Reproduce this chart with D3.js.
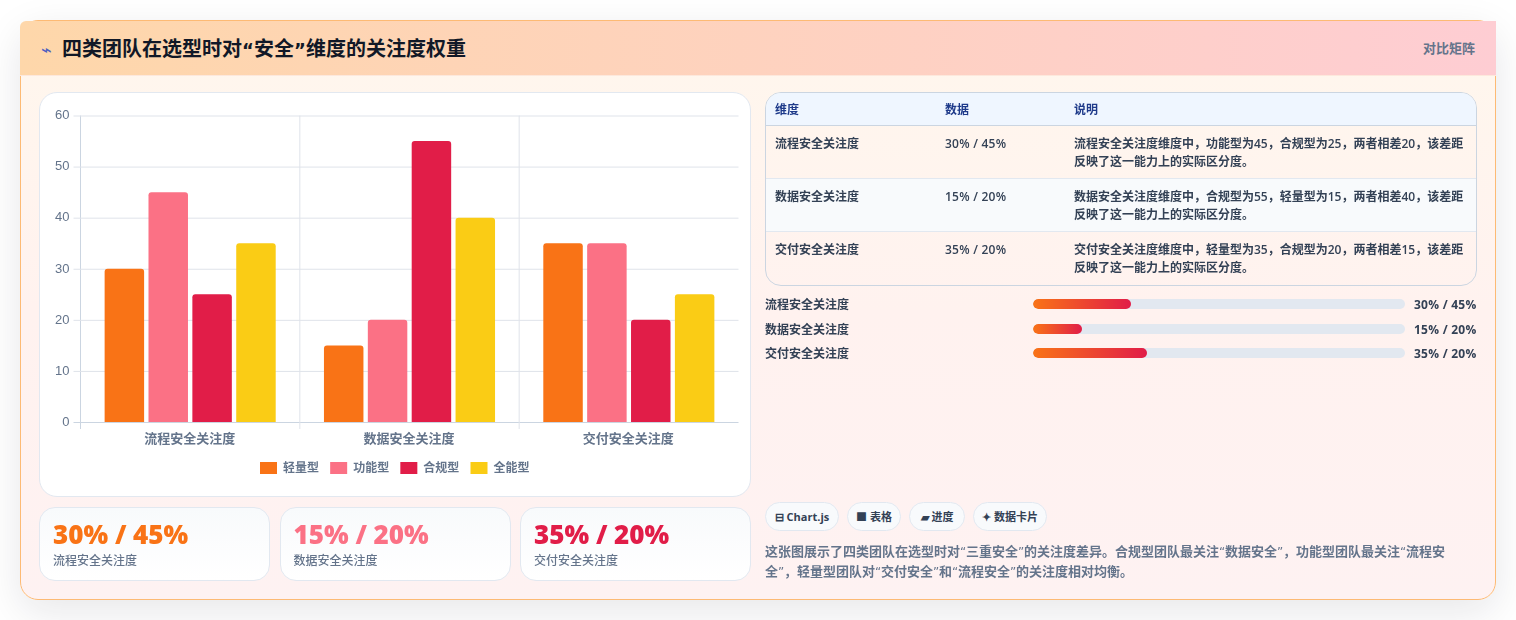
<!DOCTYPE html>
<html lang="zh">
<head>
<meta charset="utf-8">
<script src="https://cdn.jsdelivr.net/npm/d3@7"></script>
<style>
  @font-face { font-family: Quote; src: local("DejaVu Sans"); font-weight: 400 600; unicode-range: U+201C-201D; size-adjust: 92%; }
  @font-face { font-family: Quote; src: local("DejaVu Sans Bold"); font-weight: 700 900; unicode-range: U+201C-201D; size-adjust: 92%; }
  * { box-sizing: border-box; }
  html, body { margin: 0; width: 1516px; height: 620px; background: #fff; overflow: hidden; }
  body { font-family: Quote, "Open Sans", "Noto Sans CJK SC", sans-serif; position: relative; }
  .abs { position: absolute; white-space: nowrap; }
  #card {
    left: 20px; top: 20px; width: 1476px; height: 580px; border-radius: 18px;
    border: 1px solid #fdba74;
    background: linear-gradient(180deg, #fff7ed 0%, #fff2ef 50%, #fef2f2 100%);
    box-shadow: 0 12px 40px rgba(15, 23, 42, 0.1);
  }
  #head {
    left: 20px; top: 21px; width: 1476px; height: 55px;
    background: linear-gradient(90deg, #fed7aa, #fecdd3);
    border-bottom: 1px solid #fde8dc; border-radius: 6px 0 0 0;
  }
  #title { left: 62px; top: 34px; font-size: 20px; font-weight: 700; color: #111827; line-height: 30px; }
  #bolt { left: 41px; top: 39px; font-size: 18px; color: #4f5fc0; line-height: 20px; }
  #tag { right: 41px; top: 38px; font-size: 13px; font-weight: 700; color: #64748b; line-height: 20px; }
  #panel { left: 39px; top: 92px; width: 712px; height: 405px; background: #fff; border: 1px solid #e2e8f0; border-radius: 18px; }
  #plot { left: 0; top: 0; will-change: transform; }
  .stat { top: 507px; height: 74px; background: linear-gradient(180deg, #f8fafc, #ffffff); border: 1px solid #e2e8f0; border-radius: 16px; }
  .stat .v { position: absolute; left: 13px; top: 9px; font-size: 26px; font-weight: 800; line-height: 34px; white-space: nowrap; }
  .stat .k { position: absolute; left: 13px; top: 44px; font-size: 12px; font-weight: 500; color: #64748b; line-height: 18px; white-space: nowrap; }
  #tbl { left: 765px; top: 92px; width: 712px; height: 194px; border: 1px solid #cbd5e1; border-radius: 16px; overflow: hidden; }
  .cell { position: absolute; font-size: 12px; font-weight: 600; color: #334155; line-height: 18px; }
  .cell.num { letter-spacing: 0.25px; }
  .th { color: #1e3a8a; font-weight: 700; }
  .band { position: absolute; left: 0; width: 100%; border-top: 1px solid #e2e8f0; }
  .plabel { left: 765px; font-size: 12px; font-weight: 600; color: #334155; line-height: 18px; }
  .pval { left: 1414px; font-size: 12px; font-weight: 700; color: #334155; line-height: 18px; letter-spacing: 0.25px; }
  .track { left: 1033px; width: 372px; height: 10px; border-radius: 5px; background: #e2e8f0; overflow: hidden; }
  .fill { height: 100%; border-radius: 5px; background: linear-gradient(90deg, #f97316, #e11d48); }
  .pill { top: 502px; height: 29px; border: 1px solid #e2e8f0; border-radius: 15px; background: #f8fafc; font-size: 11px; font-weight: 700; color: #334155; line-height: 27px; text-align: center; }
  .note { left: 765px; font-size: 13px; font-weight: 600; color: #64748b; line-height: 20px; }
</style>
</head>
<body>
<script>
const categories = ['流程安全关注度', '数据安全关注度', '交付安全关注度'];
const seriesNames = ['轻量型', '功能型', '合规型', '全能型'];
const seriesColors = ['#f97316', '#fb7185', '#e11d48', '#facc15'];
const lightValues = [30, 15, 35];
const functionValues = [45, 20, 35];
const complianceValues = [25, 55, 20];
const allRoundValues = [35, 40, 25];
const seriesValues = [lightValues, functionValues, complianceValues, allRoundValues];
const yTicks = [0, 10, 20, 30, 40, 50, 60];

const statLabels = ['30% / 45%', '15% / 20%', '35% / 20%'];
const progressValues = [30, 15, 35];
const tableHeaders = ['维度', '数据', '说明'];
const tableNotes = [
  ['流程安全关注度维度中，功能型为45，合规型为25，两者相差20，该差距', '反映了这一能力上的实际区分度。'],
  ['数据安全关注度维度中，合规型为55，轻量型为15，两者相差40，该差距', '反映了这一能力上的实际区分度。'],
  ['交付安全关注度维度中，轻量型为35，合规型为20，两者相差15，该差距', '反映了这一能力上的实际区分度。'],
];
const pills = ['⊟ Chart.js', '■ 表格', '▰ 进度', '✦ 数据卡片'];
const noteLines = [
  '这张图展示了四类团队在选型时对“三重安全”的关注度差异。合规型团队最关注“数据安全”，功能型团队最关注“流程安',
  '全”，轻量型团队对“交付安全”和“流程安全”的关注度相对均衡。',
];

const body = d3.select('body');
const box = (id, cls = '') => body.append('div').attr('id', id).attr('class', 'abs ' + cls);

// card frame and header
box('card');
box('head');
box('bolt').text('⌁');
box('title').text('四类团队在选型时对“安全”维度的关注度权重');
box('tag').text('对比矩阵');
box('panel');

// bar chart
const svg = body.append('svg').attr('id', 'plot').attr('class', 'abs')
  .attr('width', 1516).attr('height', 620);
const x0 = d3.scaleBand().domain(categories).range([80.5, 738.5]);
const x1 = d3.scaleBand().domain(seriesNames)
  .range([0, x0.bandwidth() * 0.8]).paddingInner(0.1).paddingOuter(0.05);
const y = d3.scaleLinear().domain([0, 60]).range([422, 115.5]);

const yAxis = d3.axisLeft(y).tickValues(yTicks).tickSize(7).tickPadding(4);
const yG = svg.append('g').attr('transform', 'translate(80.5,0)').call(yAxis);
yG.select('.domain').attr('stroke', '#cbd5e1').attr('d', 'M0,115.5V429');
yG.selectAll('.tick line').attr('x2', 658).attr('x1', -7).attr('stroke', '#dfe3ea');
yG.selectAll('.tick text').attr('fill', '#64748b').attr('dy', '0.25em')
  .style('font', '13px "Liberation Sans", Arial, sans-serif');
yG.selectAll('.tick').filter(d => d === 0).select('line').attr('stroke', '#cbd5e1');

const xAxis = d3.axisBottom(x0).tickSize(0).tickPadding(12);
const xG = svg.append('g').attr('transform', 'translate(-0.5,422)').call(xAxis);
xG.select('.domain').remove();
xG.selectAll('.tick text').attr('fill', '#64748b')
  .style('font', '600 13px "Noto Sans CJK SC", sans-serif');

svg.append('g').selectAll('line')
  .data(categories.slice(1))
  .join('line')
  .attr('x1', d => x0(d))
  .attr('x2', d => x0(d))
  .attr('y1', 115.5).attr('y2', 429)
  .attr('stroke', '#dfe3ea');

const barPath = (bx, by, w, h, r) =>
  `M${bx},${by + h}V${by + r}Q${bx},${by} ${bx + r},${by}H${bx + w - r}Q${bx + w},${by} ${bx + w},${by + r}V${by + h}Z`;

const bars = svg.append('g').selectAll('g')
  .data(seriesNames)
  .join('g')
  .attr('fill', (d, i) => seriesColors[i]);
bars.selectAll('path')
  .data((s, i) => categories.map((c, j) => ({ s, c, v: seriesValues[i][j] })))
  .join('path')
  .attr('d', d => barPath(
    x0(d.c) + x0.bandwidth() * 0.1 + x1(d.s), y(d.v),
    x1.bandwidth(), y(0) - y(d.v), 3));

// legend
const legendX = d3.scalePoint().domain(seriesNames).range([260, 470.5]);
const legend = svg.append('g').selectAll('g')
  .data(seriesNames)
  .join('g')
  .attr('transform', d => `translate(${legendX(d)},462)`);
legend.append('rect').attr('width', 17).attr('height', 12)
  .attr('fill', (d, i) => seriesColors[i]);
legend.append('text').attr('x', 23).attr('y', 10).attr('fill', '#64748b')
  .style('font', '600 12px "Noto Sans CJK SC", sans-serif')
  .text(d => d);

// stat cards
const statX = d3.scalePoint().domain(categories).range([39, 520]);
categories.forEach((c, i) => {
  const card = body.append('div').attr('class', 'abs stat')
    .style('left', statX(c) + 'px').style('width', '231px');
  card.append('div').attr('class', 'v').style('color', seriesColors[i]).text(statLabels[i]);
  card.append('div').attr('class', 'k').text(c);
});

// table
const tbl = box('tbl');
const colX = [9, 179, 308];
const rowY = d3.scalePoint().domain(categories).range([33, 139]);
tbl.append('div').attr('class', 'band')
  .style('top', 0).style('height', '33px').style('background', '#eff6ff').style('border-top', 'none')
  .style('border-bottom', '1px solid #cbd5e1');
tableHeaders.forEach((h, i) => {
  tbl.append('div').attr('class', 'cell th').style('left', colX[i] + 'px').style('top', '8px').text(h);
});
categories.forEach((c, i) => {
  tbl.append('div').attr('class', 'band')
    .style('top', rowY(c) - (i ? 1 : 0) + 'px').style('height', '53px')
    .style('background', i === 1 ? '#f8fafc' : 'transparent')
    .style('border-top', i ? '1px solid #e2e8f0' : 'none');
  const top = rowY(c) + 9;
  tbl.append('div').attr('class', 'cell').style('left', colX[0] + 'px').style('top', top + 'px').text(c);
  tbl.append('div').attr('class', 'cell num').style('left', colX[1] + 'px').style('top', top + 'px').text(statLabels[i]);
  tableNotes[i].forEach((line, j) => {
    tbl.append('div').attr('class', 'cell').style('left', colX[2] + 'px')
      .style('top', top + j * 18 + 'px').style('white-space', 'nowrap').text(line);
  });
});

// progress rows
const progY = d3.scalePoint().domain(categories).range([299, 348]);
const progW = d3.scaleLinear().domain([0, 114]).range([0, 372]);
categories.forEach((c, i) => {
  body.append('div').attr('class', 'abs plabel').style('top', progY(c) - 3 + 'px').text(c);
  body.append('div').attr('class', 'abs track').style('top', progY(c) + 'px')
    .append('div').attr('class', 'fill').style('width', progW(progressValues[i]) + 'px');
  body.append('div').attr('class', 'abs pval').style('top', progY(c) - 3 + 'px').text(statLabels[i]);
});

// pills and note
const pillLeft = [765, 847, 909, 973];
const pillWidth = [74, 54, 56, 74];
pills.forEach((p, i) => {
  body.append('div').attr('class', 'abs pill')
    .style('left', pillLeft[i] + 'px').style('width', pillWidth[i] + 'px').text(p);
});
noteLines.forEach((line, i) => {
  body.append('div').attr('class', 'abs note').style('top', 541 + i * 20 + 'px').text(line);
});
</script>
</body>
</html>
